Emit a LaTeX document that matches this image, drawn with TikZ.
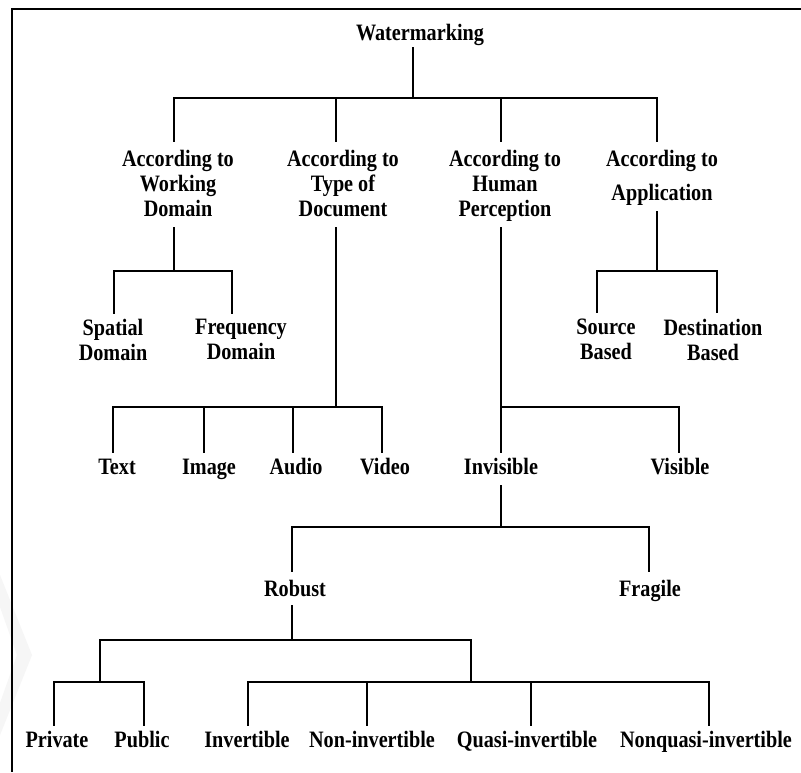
\documentclass[tikz,border=0pt]{standalone}
\usepackage{fontspec}
\setmainfont{Liberation Serif}[FakeStretch=0.86]
\begin{document}
\begin{tikzpicture}[x=1pt,y=-1pt,
  lbl/.style={font=\fontsize{23.5}{25}\selectfont\bfseries, inner sep=0pt, align=center},
  one/.style={lbl, anchor=base},
  many/.style={lbl, anchor=north},
  link/.style={line width=1.7pt, line join=miter, line cap=butt},
  frame/.style={line width=2.3pt, line join=miter}]
\useasboundingbox (0,0) rectangle (801,772);
\fill[white] (0,0) rectangle (801,772);

% faint grey chevron behind the left margin
\fill[gray!7] (0,575) -- (32,655) -- (0,735) -- (0,703) -- (17,655) -- (0,607) -- cycle;

% open frame: top and left edges
\draw[frame] (801,9) -- (12,9) -- (12,772);

% ---------- labels ----------
\node[one]  (wm)    at (420,40)    {Watermarking};

\node[many] (wd)    at (178,150) {According to\\Working\\Domain};
\node[many] (doc)   at (343,150) {According to\\Type of\\Document};
\node[many] (hp)    at (505,150) {According to\\Human\\Perception};
\node[many] (app)   at (662,150) {According to\\[9pt]Application};

\node[many] (spat)  at (113,319) {Spatial\\Domain};
\node[many] (freq)  at (241,319) {Frequency\\Domain};
\node[many] (src)   at (606,319) {Source\\Based};
\node[many] (dst)   at (713,319) {Destination\\Based};

\node[one]  (text)  at (117,474)   {Text};
\node[one]  (image) at (209,474)   {Image};
\node[one]  (audio) at (296,474)   {Audio};
\node[one]  (video) at (385,474)   {Video};
\node[one]  (invis) at (501,474)   {Invisible};
\node[one]  (vis)   at (680,474)   {Visible};

\node[one]  (robust)  at (295,596) {Robust};
\node[one]  (fragile) at (650,596) {Fragile};

\node[one]  (private)  at (57,747)  {Private};
\node[one]  (public)   at (142,747) {Public};
\node[one]  (inv)      at (247,747) {Invertible};
\node[one]  (noninv)   at (372,747) {Non-invertible};
\node[one]  (quasi)    at (527,747) {Quasi-invertible};
\node[one]  (nonquasi) at (706,747) {Nonquasi-invertible};

% ---------- connector tips (stem outlets and child inlets) ----------
\coordinate (wm-o)  at (413,47);
\coordinate (wd-i)  at (174,142);
\coordinate (doc-i) at (336,142);
\coordinate (hp-i)  at (501,142);
\coordinate (app-i) at (657,142);

\coordinate (wd-o)   at (174,227);
\coordinate (spat-i) at (114,314);
\coordinate (freq-i) at (232,314);

\coordinate (app-o)  at (657,211);
\coordinate (src-i)  at (597,313);
\coordinate (dst-i)  at (717,313);

\coordinate (doc-o)   at (336,227);
\coordinate (text-i)  at (113,453);
\coordinate (image-i) at (204,453);
\coordinate (audio-i) at (293,453);
\coordinate (video-i) at (382,453);

\coordinate (hp-o)    at (501,227);
\coordinate (invis-i) at (501,453);
\coordinate (vis-i)   at (679,453);

\coordinate (invis-o)   at (501,485);
\coordinate (robust-i)  at (292,572);
\coordinate (fragile-i) at (649,572);

\coordinate (robust-o) at (292,605);
\coordinate (key-j)    at (100,682);
\coordinate (rev-j)    at (471,682);

\coordinate (private-i)  at (54,726);
\coordinate (public-i)   at (144,726);
\coordinate (inv-i)      at (248,726);
\coordinate (noninv-i)   at (367,726);
\coordinate (quasi-i)    at (531,726);
\coordinate (nonquasi-i) at (709,726);

% ---------- tree connectors ----------
\foreach \c in {wd-i,doc-i,hp-i,app-i}
  \draw[link] (wm-o) -- ++(0,51) -| (\c);

\foreach \c in {spat-i,freq-i}
  \draw[link] (wd-o) -- ++(0,44) -| (\c);

\foreach \c in {src-i,dst-i}
  \draw[link] (app-o) -- ++(0,60) -| (\c);

\foreach \c in {text-i,image-i,audio-i,video-i}
  \draw[link] (doc-o) -- ++(0,180) -| (\c);

\foreach \c in {invis-i,vis-i}
  \draw[link] (hp-o) -- ++(0,180) -| (\c);

\foreach \c in {robust-i,fragile-i}
  \draw[link] (invis-o) -- ++(0,42) -| (\c);

\foreach \c in {key-j,rev-j}
  \draw[link] (robust-o) -- ++(0,35) -| (\c);

\foreach \c in {private-i,public-i}
  \draw[link] (key-j) -| (\c);

\foreach \c in {inv-i,noninv-i,quasi-i,nonquasi-i}
  \draw[link] (rev-j) -| (\c);
\end{tikzpicture}
\end{document}
